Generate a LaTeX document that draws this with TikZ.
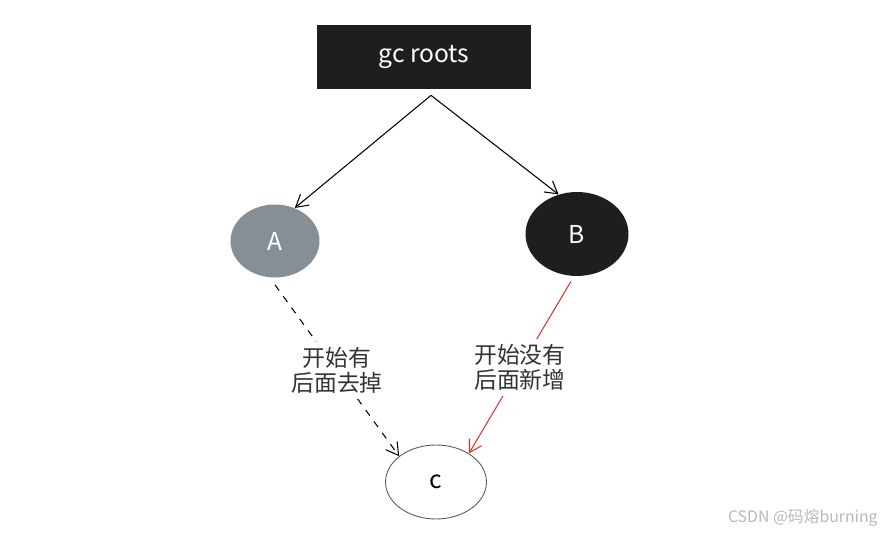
\documentclass[tikz,border=0pt]{standalone}
\usepackage{fontspec}
\setmainfont{Noto Sans CJK SC}
\usetikzlibrary{arrows.meta,shapes.geometric}
\definecolor{inkDark}{HTML}{1E1E1E}
\definecolor{inkGray}{HTML}{868E96}
\definecolor{markRed}{HTML}{E03131}
\newcommand{\labelFont}{\fontsize{13}{14.5}\selectfont}
\newcommand{\nodeFont}{\fontsize{14}{16}\selectfont}

\begin{document}
\begin{tikzpicture}[x=0.02cm, y=-0.02cm,
  obj/.style={ellipse, inner sep=0pt, font=\nodeFont},
  ref/.style={line width=0.6pt, -{Straight Barb[length=2.4mm,width=2.8mm]}},
  note/.style={fill=white, text=black!80, align=center, inner sep=3pt, font=\labelFont}]
\useasboundingbox (0,0) rectangle (883,533);
\node (root) [fill=inkDark, text=white, minimum width=4.28cm, minimum height=1.28cm,
  font=\nodeFont] at (424,57) {gc roots};
\node (A) [obj, fill=inkGray, text=white, minimum width=1.78cm, minimum height=1.46cm] at (275,241) {A};
\node (B) [obj, fill=inkDark, text=white, minimum width=2.06cm, minimum height=1.68cm] at (577,234) {B};
\node (C) [obj, draw=black!65, line width=0.5pt, minimum width=2.02cm, minimum height=1.48cm] at (436,482) {c};
\coordinate (rootout) at ([xshift=0.14cm,yshift=-0.12cm]root.south);
\draw[ref] (rootout) -- (A.59);
\draw[ref] (rootout) -- (B.115);
\draw[ref, dashed, dash pattern=on 4pt off 4pt] ([yshift=-0.14cm]A.south) -- node[note] {开始有\\后面去掉} (C.145);
\draw[ref, markRed] ([shift={(-0.12cm,-0.1cm)}]B.south) -- node[note] {开始没有\\后面新增} (C.41);
\node (mark) [anchor=east, inner sep=0pt, text=black!28, font=\fontsize{9}{12}\selectfont] at (878,518) {CSDN @码熔burning};
\end{tikzpicture}
\end{document}
